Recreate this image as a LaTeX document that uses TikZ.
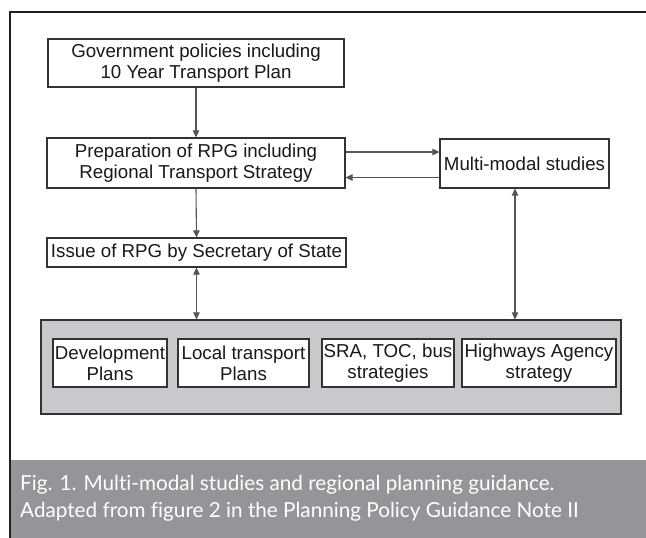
\documentclass[tikz,border=0pt]{standalone}
\usepackage{fontspec}
\setmainfont{Liberation Sans}
\newfontfamily\capfont[Ligatures=NoCommon]{Lato}
\usetikzlibrary{arrows.meta,calc}
\definecolor{framec}{HTML}{231F20}
\definecolor{linec}{HTML}{333333}
\definecolor{arrc}{HTML}{555555}
\definecolor{panelc}{HTML}{C8C9CC}
\definecolor{bandc}{HTML}{939598}
\tikzset{
  boxnode/.style={draw=linec, line width=1.2pt, fill=white, inner sep=0pt, align=center,
    font=\fontsize{18.7}{21}\selectfont, text=black!90},
  arr/.style={draw=arrc, line width=1.1pt, -{Triangle[length=7pt,width=6.5pt]}},
  dblarr/.style={draw=arrc, line width=1.1pt, {Triangle[length=7pt,width=6.5pt]}-{Triangle[length=7pt,width=6.5pt]}},
}
\begin{document}
\begin{tikzpicture}[x=1pt,y=-1pt]
\useasboundingbox (0,0) rectangle (646,538);
% caption band
\fill[bandc] (11,460) rectangle (646,538);
% outer frame
\draw[framec, line width=2.4pt] (646,12) -- (10,12) -- (10,538);
% top boxes
\node[boxnode, minimum width=296pt, minimum height=48pt] (gov) at (196,63) {Government policies including\\10 Year Transport Plan};
\node[boxnode, minimum width=298pt, minimum height=50pt] (prep) at (196,163) {Preparation of RPG including\\Regional Transport Strategy};
\node[boxnode, minimum width=299pt, minimum height=29pt] (issue) at (196.5,252.5) {Issue of RPG by Secretary of State};
\node[boxnode, minimum width=169pt, minimum height=49pt] (multi) at (524.5,163.5) {Multi-modal studies};
% panel
\node[draw=linec, line width=1.2pt, fill=panelc, minimum width=580pt, minimum height=94pt, inner sep=0pt] (panel) at (331,367) {};
\node[boxnode, minimum width=114pt, minimum height=48pt] (dev) at (110,363) {Development\\Plans};
\node[boxnode, minimum width=131pt, minimum height=48pt] (local) at (243.5,363) {Local transport\\Plans};
\node[boxnode, minimum width=132pt, minimum height=48pt] (sra) at (388,363) {SRA, TOC, bus\\strategies};
\node[boxnode, minimum width=154pt, minimum height=48pt] (hwy) at (539,363) {Highways Agency\\strategy};
% connectors
\draw[arr] (gov.south) -- (prep.north);
\draw[arr] (prep.south) -- (issue.north);
\draw[arr] ([yshift=11pt]prep.east) -- ([yshift=11pt]prep.east -| multi.west);
\draw[arr] ([yshift=-14pt]multi.west) -- ([yshift=-14pt]multi.west -| prep.east);
\draw[dblarr] (issue.south) -- (issue.south |- panel.north);
\draw[dblarr] ([xshift=-9.5pt]multi.south) -- ([xshift=-9.5pt]multi.south |- panel.north);
% caption
\node[anchor=west, align=left, text=white, inner sep=0pt, font=\capfont\fontsize{20.7}{27}\selectfont] (cap) at (20,498) {Fig. 1. Multi-modal studies and regional planning guidance.\\Adapted from figure 2 in the Planning Policy Guidance Note II};
\end{tikzpicture}
\end{document}
